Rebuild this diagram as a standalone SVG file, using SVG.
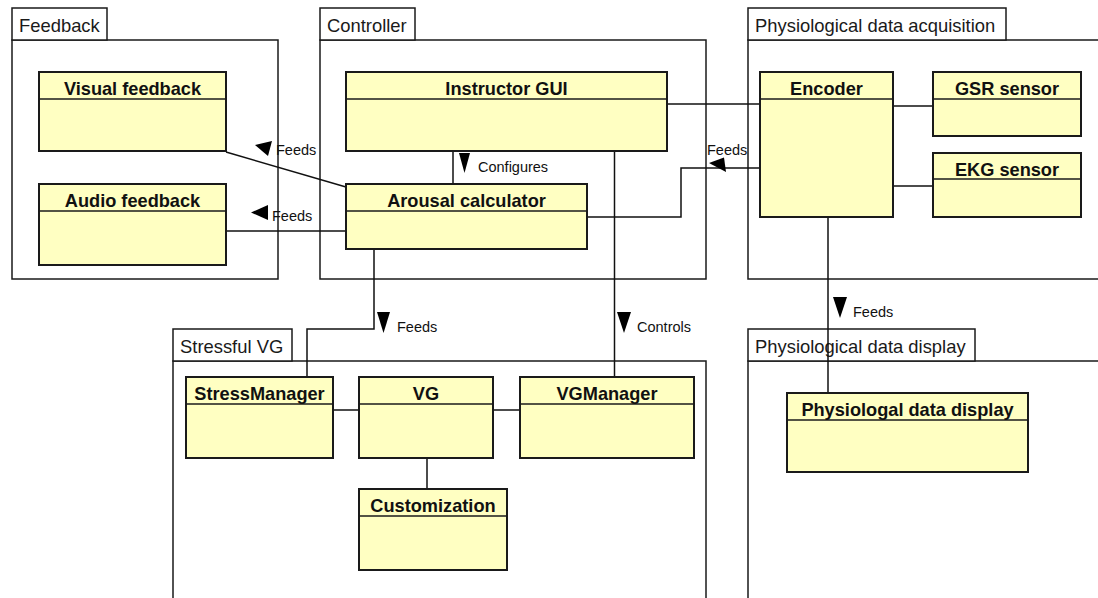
<svg xmlns="http://www.w3.org/2000/svg" width="1098" height="598" viewBox="0 0 1098 598">
<style>
.pkg{fill:#ffffff;stroke:#1a1a1a;stroke-width:1.5}
.pl{font-family:"Liberation Sans",Arial,sans-serif;font-size:18.4px;fill:#1a1a1a}
.box{fill:#ffffc2;stroke:#1a1a1a;stroke-width:2}
.div{stroke:#1a1a1a;stroke-width:1.5}
.nm{font-family:"Liberation Sans",Arial,sans-serif;font-size:18.2px;font-weight:bold;fill:#111;text-anchor:middle}
.ln{fill:none;stroke:#111;stroke-width:1.5}
.lb{font-family:"Liberation Sans",Arial,sans-serif;font-size:14.5px;fill:#111}
.ar{fill:#000}
</style>
<rect width="1098" height="598" fill="#ffffff"/>
<g id="pkg-feedback">
<rect class="pkg" x="12" y="40" width="266" height="239"/>
<rect class="pkg" x="12" y="8" width="95" height="32"/>
<text class="pl" x="19" y="32">Feedback</text>
</g>
<g id="pkg-controller">
<rect class="pkg" x="320" y="40" width="386" height="239"/>
<rect class="pkg" x="320" y="8" width="95" height="32"/>
<text class="pl" x="327" y="32">Controller</text>
</g>
<g id="pkg-acquisition">
<rect class="pkg" x="748" y="40" width="370" height="239"/>
<rect class="pkg" x="748" y="8" width="258" height="32"/>
<text class="pl" x="755" y="32">Physiological data acquisition</text>
</g>
<g id="pkg-stressfulvg">
<rect class="pkg" x="173" y="361" width="533" height="260"/>
<rect class="pkg" x="173" y="329" width="119" height="32"/>
<text class="pl" x="180" y="353">Stressful VG</text>
</g>
<g id="pkg-display">
<rect class="pkg" x="748" y="361" width="370" height="260"/>
<rect class="pkg" x="748" y="329" width="227" height="32"/>
<text class="pl" x="755" y="353">Physiological data display</text>
</g>
<g id="connectors">
<line class="ln" x1="226" y1="152" x2="346" y2="187"/>
<line class="ln" x1="226" y1="231" x2="346" y2="231"/>
<line class="ln" x1="453" y1="151" x2="453" y2="184"/>
<polyline class="ln" points="587,217 681,217 681,168 760,168"/>
<line class="ln" x1="667" y1="104" x2="760" y2="104"/>
<line class="ln" x1="893" y1="106" x2="933" y2="106"/>
<line class="ln" x1="893" y1="186" x2="933" y2="186"/>
<line class="ln" x1="828" y1="217" x2="828" y2="393"/>
<polyline class="ln" points="374,249 374,329 307,329 307,377"/>
<line class="ln" x1="614.5" y1="151" x2="614.5" y2="377"/>
<line class="ln" x1="333" y1="410" x2="359" y2="410"/>
<line class="ln" x1="493" y1="410" x2="520" y2="410"/>
<line class="ln" x1="427" y1="458" x2="427" y2="489"/>
<polygon class="ar" points="255,145 272,141 268,156"/>
<text class="lb" x="276" y="155">Feeds</text>
<polygon class="ar" points="251,212.5 268,205 268,220"/>
<text class="lb" x="272" y="221">Feeds</text>
<polygon class="ar" points="459,153 470,153 464.5,173"/>
<text class="lb" x="478" y="172">Configures</text>
<polygon class="ar" points="709,163 724,157.5 726,172"/>
<text class="lb" x="707" y="155">Feeds</text>
<polygon class="ar" points="377,312 390,312 383.5,333"/>
<text class="lb" x="397" y="332">Feeds</text>
<polygon class="ar" points="617,312 631,312 624,333"/>
<text class="lb" x="637" y="332">Controls</text>
<polygon class="ar" points="833,297 847,297 840,318"/>
<text class="lb" x="853" y="317">Feeds</text>
</g>
<g id="visual-feedback">
<rect class="box" x="39" y="72" width="187" height="79"/>
<line class="div" x1="39" y1="99" x2="226" y2="99"/>
<text class="nm" x="132.5" y="95">Visual feedback</text>
</g>
<g id="audio-feedback">
<rect class="box" x="39" y="184" width="187" height="81"/>
<line class="div" x1="39" y1="211" x2="226" y2="211"/>
<text class="nm" x="132.5" y="207">Audio feedback</text>
</g>
<g id="instructor-gui">
<rect class="box" x="346" y="72" width="321" height="79"/>
<line class="div" x1="346" y1="99" x2="667" y2="99"/>
<text class="nm" x="506.5" y="95">Instructor GUI</text>
</g>
<g id="arousal-calculator">
<rect class="box" x="346" y="184" width="241" height="65"/>
<line class="div" x1="346" y1="211" x2="587" y2="211"/>
<text class="nm" x="466.5" y="207">Arousal calculator</text>
</g>
<g id="encoder">
<rect class="box" x="760" y="72" width="133" height="145"/>
<line class="div" x1="760" y1="99" x2="893" y2="99"/>
<text class="nm" x="826.5" y="95">Encoder</text>
</g>
<g id="gsr-sensor">
<rect class="box" x="933" y="72" width="148" height="64"/>
<line class="div" x1="933" y1="99" x2="1081" y2="99"/>
<text class="nm" x="1007" y="95">GSR sensor</text>
</g>
<g id="ekg-sensor">
<rect class="box" x="933" y="153" width="148" height="64"/>
<line class="div" x1="933" y1="179" x2="1081" y2="179"/>
<text class="nm" x="1007" y="176">EKG sensor</text>
</g>
<g id="stress-manager">
<rect class="box" x="186" y="377" width="147" height="81"/>
<line class="div" x1="186" y1="404" x2="333" y2="404"/>
<text class="nm" x="259.5" y="400">StressManager</text>
</g>
<g id="vg">
<rect class="box" x="359" y="377" width="134" height="81"/>
<line class="div" x1="359" y1="404" x2="493" y2="404"/>
<text class="nm" x="426" y="400">VG</text>
</g>
<g id="vg-manager">
<rect class="box" x="520" y="377" width="174" height="81"/>
<line class="div" x1="520" y1="404" x2="694" y2="404"/>
<text class="nm" x="607" y="400">VGManager</text>
</g>
<g id="customization">
<rect class="box" x="359" y="489" width="148" height="81"/>
<line class="div" x1="359" y1="516" x2="507" y2="516"/>
<text class="nm" x="433" y="512">Customization</text>
</g>
<g id="physio-display">
<rect class="box" x="787" y="393" width="241" height="79"/>
<line class="div" x1="787" y1="420" x2="1028" y2="420"/>
<text class="nm" x="907.5" y="416">Physiologal data display</text>
</g>
</svg>
